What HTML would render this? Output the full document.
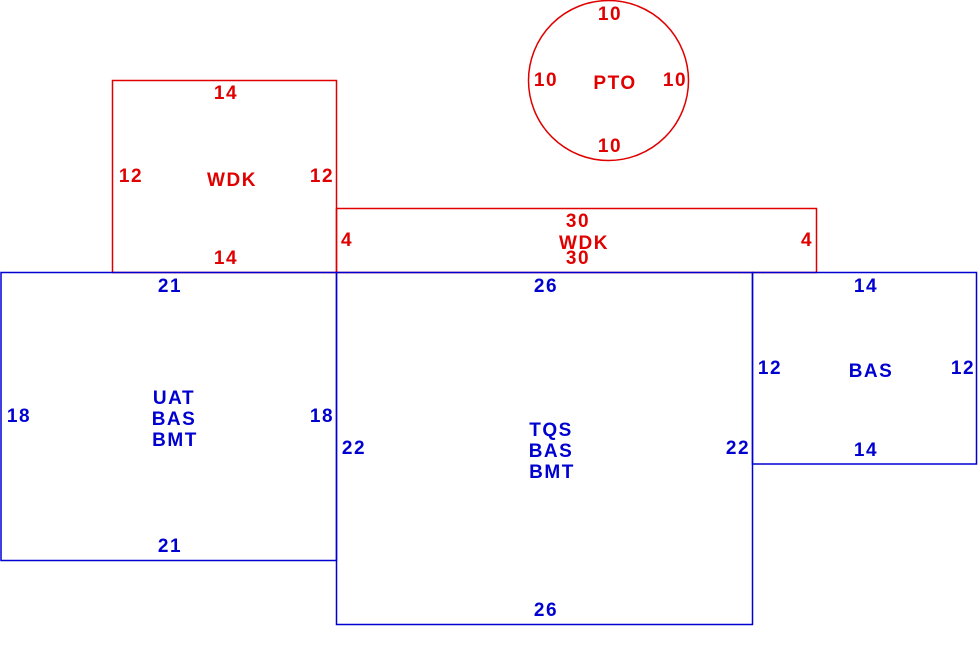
<!DOCTYPE html>
<html><head><style>html,body{margin:0;padding:0;background:#fff;}svg{display:block}</style></head>
<body>
<svg width="980" height="654" xmlns="http://www.w3.org/2000/svg" font-family="Liberation Sans, Arial, sans-serif" font-weight="bold" font-size="19" letter-spacing="1.5" text-anchor="middle">
<g fill="none" stroke="#e00000" stroke-width="1.5">
<circle cx="608.5" cy="80.5" r="80"/>
<rect x="112.5" y="80.5" width="224" height="192"/>
<rect x="336.5" y="208.5" width="480" height="64"/>
</g>
<g fill="none" stroke="#0000d0" stroke-width="1.5">
<rect x="1" y="272.5" width="335.5" height="288"/>
<rect x="336.5" y="272.5" width="416" height="352"/>
<rect x="752.5" y="272.5" width="224" height="191.5"/>
</g>
<g fill="#e00000">
<text x="610" y="20">10</text>
<text x="546" y="86">10</text>
<text x="675" y="86">10</text>
<text x="615" y="89">PTO</text>
<text x="610" y="152">10</text>
<text x="226" y="99">14</text>
<text x="131" y="182">12</text>
<text x="322" y="182">12</text>
<text x="232" y="186">WDK</text>
<text x="226" y="264">14</text>
<text x="578" y="227">30</text>
<text x="584" y="249">WDK</text>
<text x="578" y="264">30</text>
<text x="347" y="246">4</text>
<text x="807" y="246">4</text>
</g>
<g fill="#0000d0">
<text x="170" y="292">21</text>
<text x="19" y="422">18</text>
<text x="322" y="422">18</text>
<text x="174" y="404">UAT</text>
<text x="174" y="425">BAS</text>
<text x="175" y="446">BMT</text>
<text x="170" y="552">21</text>
<text x="546" y="292">26</text>
<text x="354" y="454">22</text>
<text x="738" y="454">22</text>
<text x="551" y="436">TQS</text>
<text x="551" y="457">BAS</text>
<text x="552" y="478">BMT</text>
<text x="546" y="616">26</text>
<text x="866" y="292">14</text>
<text x="770" y="374">12</text>
<text x="963" y="374">12</text>
<text x="871" y="377">BAS</text>
<text x="866" y="456">14</text>
</g>
</svg>
</body></html>
